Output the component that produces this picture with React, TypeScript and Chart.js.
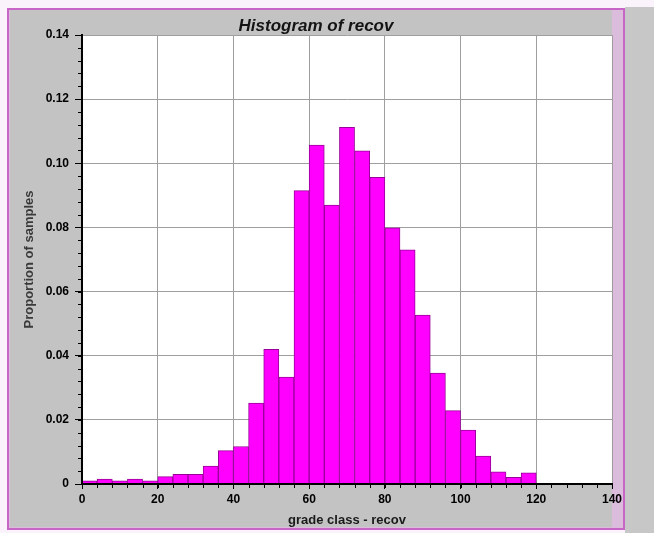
import React, { useEffect, useRef } from "react";
import { Chart, registerables } from "chart.js";

Chart.register(...registerables);

// ---- data ----
const chartTitle = "Histogram of recov";
const xAxisTitle = "grade class - recov";
const yAxisTitle = "Proportion of samples";

// bin centres (bins of width 4 from 0 to 120)
const binCenters = [
  2, 6, 10, 14, 18, 22, 26, 30, 34, 38, 42, 46, 50, 54, 58,
  62, 66, 70, 74, 78, 82, 86, 90, 94, 98, 102, 106, 110, 114, 118,
];
const proportions = [
  0.001, 0.0015, 0.001, 0.0015, 0.001, 0.0023, 0.003, 0.003, 0.0056, 0.0104,
  0.0117, 0.0252, 0.042, 0.0333, 0.0915, 0.1057, 0.087, 0.1112, 0.1039, 0.0956,
  0.0799, 0.073, 0.0527, 0.0346, 0.0229, 0.0168, 0.0087, 0.0038, 0.0021, 0.0035,
];

const xTickValues = [0, 20, 40, 60, 80, 100, 120, 140];
const xTickLabels = ["0", "20", "40", "60", "80", "100", "120", "140"];
const yTickValues = [0, 0.02, 0.04, 0.06, 0.08, 0.1, 0.12, 0.14];
const yTickLabels = ["0", "0.02", "0.04", "0.06", "0.08", "0.10", "0.12", "0.14"];
const xMinorStep = 4;
const yMinorStep = 0.004;

const FONT = "'Liberation Sans', Arial, sans-serif";

const framePlugin = {
  id: "framePlugin",
  beforeDraw(chart: any) {
    const { ctx, chartArea, width, height } = chart;
    ctx.save();
    ctx.fillStyle = "#fbf3fb";
    ctx.fillRect(0, 0, width, height);
    ctx.fillStyle = "#c7c7c7";
    ctx.fillRect(625, 7, width - 625, height - 7);
    ctx.fillStyle = "#dcbcdc";
    ctx.fillRect(7, 8, 618, 522);
    ctx.strokeStyle = "#c766c7";
    ctx.lineWidth = 2;
    ctx.strokeRect(8, 9, 616, 520);
    ctx.fillStyle = "#c3c3c3";
    ctx.fillRect(10, 10, chartArea.right - 10, 517);
    ctx.fillStyle = "#ffffff";
    ctx.fillRect(
      chartArea.left,
      chartArea.top,
      chartArea.right - chartArea.left,
      chartArea.bottom - chartArea.top
    );
    ctx.font = `italic bold 17px ${FONT}`;
    ctx.textAlign = "center";
    ctx.textBaseline = "middle";
    ctx.fillStyle = "#141414";
    ctx.fillText(chartTitle, 316, 26);
    ctx.restore();
  },
  afterDatasetsDraw(chart: any) {
    const { ctx, chartArea, scales } = chart;
    const xs = scales.x;
    const ys = scales.y;
    ctx.save();
    ctx.strokeStyle = "#000000";
    ctx.lineWidth = 1;
    ctx.beginPath();
    for (let v = xs.min; v <= xs.max + 1e-9; v += xMinorStep) {
      const px = Math.round(xs.getPixelForValue(v)) + 0.5;
      ctx.moveTo(px, chartArea.bottom);
      ctx.lineTo(px, chartArea.bottom + 4);
    }
    for (let i = 0; i * yMinorStep <= ys.max + 1e-9; i++) {
      const py = Math.round(ys.getPixelForValue(i * yMinorStep)) + 0.5;
      ctx.moveTo(chartArea.left - 4, py);
      ctx.lineTo(chartArea.left, py);
    }
    ctx.stroke();
    ctx.lineWidth = 2;
    ctx.beginPath();
    ctx.moveTo(chartArea.left, chartArea.bottom);
    ctx.lineTo(chartArea.right, chartArea.bottom);
    ctx.moveTo(chartArea.left, chartArea.bottom);
    ctx.lineTo(chartArea.left, chartArea.top);
    ctx.stroke();
    ctx.restore();
  },
};

export default function App() {
  const canvasRef = useRef<HTMLCanvasElement | null>(null);

  useEffect(() => {
    const canvas = canvasRef.current;
    if (!canvas) return;
    const chart = new Chart(canvas, {
      type: "bar",
      data: {
        datasets: [
          {
            data: binCenters.map((x, i) => ({ x, y: proportions[i] })),
            backgroundColor: "#ff00ff",
            borderColor: "#990099",
            borderWidth: { left: 1, top: 1, right: 1, bottom: 0 },
            borderSkipped: "start",
            barPercentage: 1,
            categoryPercentage: 1,
          },
        ],
      },
      plugins: [framePlugin],
      options: {
        animation: false,
        responsive: false,
        devicePixelRatio: 1,
        layout: { padding: { left: 10, top: 35, right: 42, bottom: 0 } },
        plugins: {
          legend: { display: false },
          title: { display: false },
          tooltip: { enabled: false },
        },
        scales: {
          x: {
            type: "linear",
            min: 0,
            max: 140,
            offset: false,
            afterFit(scale: any) {
              scale.height = 49;
            },
            afterBuildTicks(scale: any) {
              scale.ticks = xTickValues.map((v) => ({ value: v }));
            },
            grid: {
              offset: false,
              color: "#9e9e9e",
              lineWidth: 1,
              drawTicks: true,
              tickLength: 5,
              tickColor: "#000000",
            },
            border: { display: true, color: "#000000", width: 2 },
            ticks: {
              autoSkip: false,
              maxRotation: 0,
              padding: 3,
              color: "#000000",
              font: { family: FONT, size: 12, weight: "bold" },
              callback: (v: any) => {
                const i = xTickValues.indexOf(Number(v));
                return i >= 0 ? xTickLabels[i] : "";
              },
            },
            title: {
              display: true,
              text: xAxisTitle,
              color: "#1a1a1a",
              font: { family: FONT, size: 13, weight: "bold" },
              padding: { top: 0, bottom: 5 },
            },
          },
          y: {
            type: "linear",
            min: 0,
            max: 0.14,
            afterFit(scale: any) {
              scale.width = 72;
            },
            afterBuildTicks(scale: any) {
              scale.ticks = yTickValues.map((v) => ({ value: v }));
            },
            grid: {
              color: "#9e9e9e",
              lineWidth: 1,
              drawTicks: true,
              tickLength: 7,
              tickColor: "#000000",
            },
            border: { display: true, color: "#000000", width: 2 },
            ticks: {
              padding: 6,
              color: "#000000",
              font: { family: FONT, size: 12, weight: "bold" },
              callback: (v: any) => {
                const i = yTickValues.findIndex((t) => Math.abs(t - Number(v)) < 1e-9);
                return i >= 0 ? yTickLabels[i] : "";
              },
            },
            title: {
              display: true,
              text: yAxisTitle,
              color: "#3a3a3a",
              font: { family: FONT, size: 13, weight: "bold" },
              padding: { top: 12, bottom: 0 },
            },
          },
        },
      } as any,
    });
    return () => chart.destroy();
  }, []);

  return (
    <div style={{ position: "absolute", left: 0, top: 0, width: 654, height: 533 }}>
      <canvas ref={canvasRef} width={654} height={533} style={{ width: 654, height: 533, display: "block" }} />
    </div>
  );
}
